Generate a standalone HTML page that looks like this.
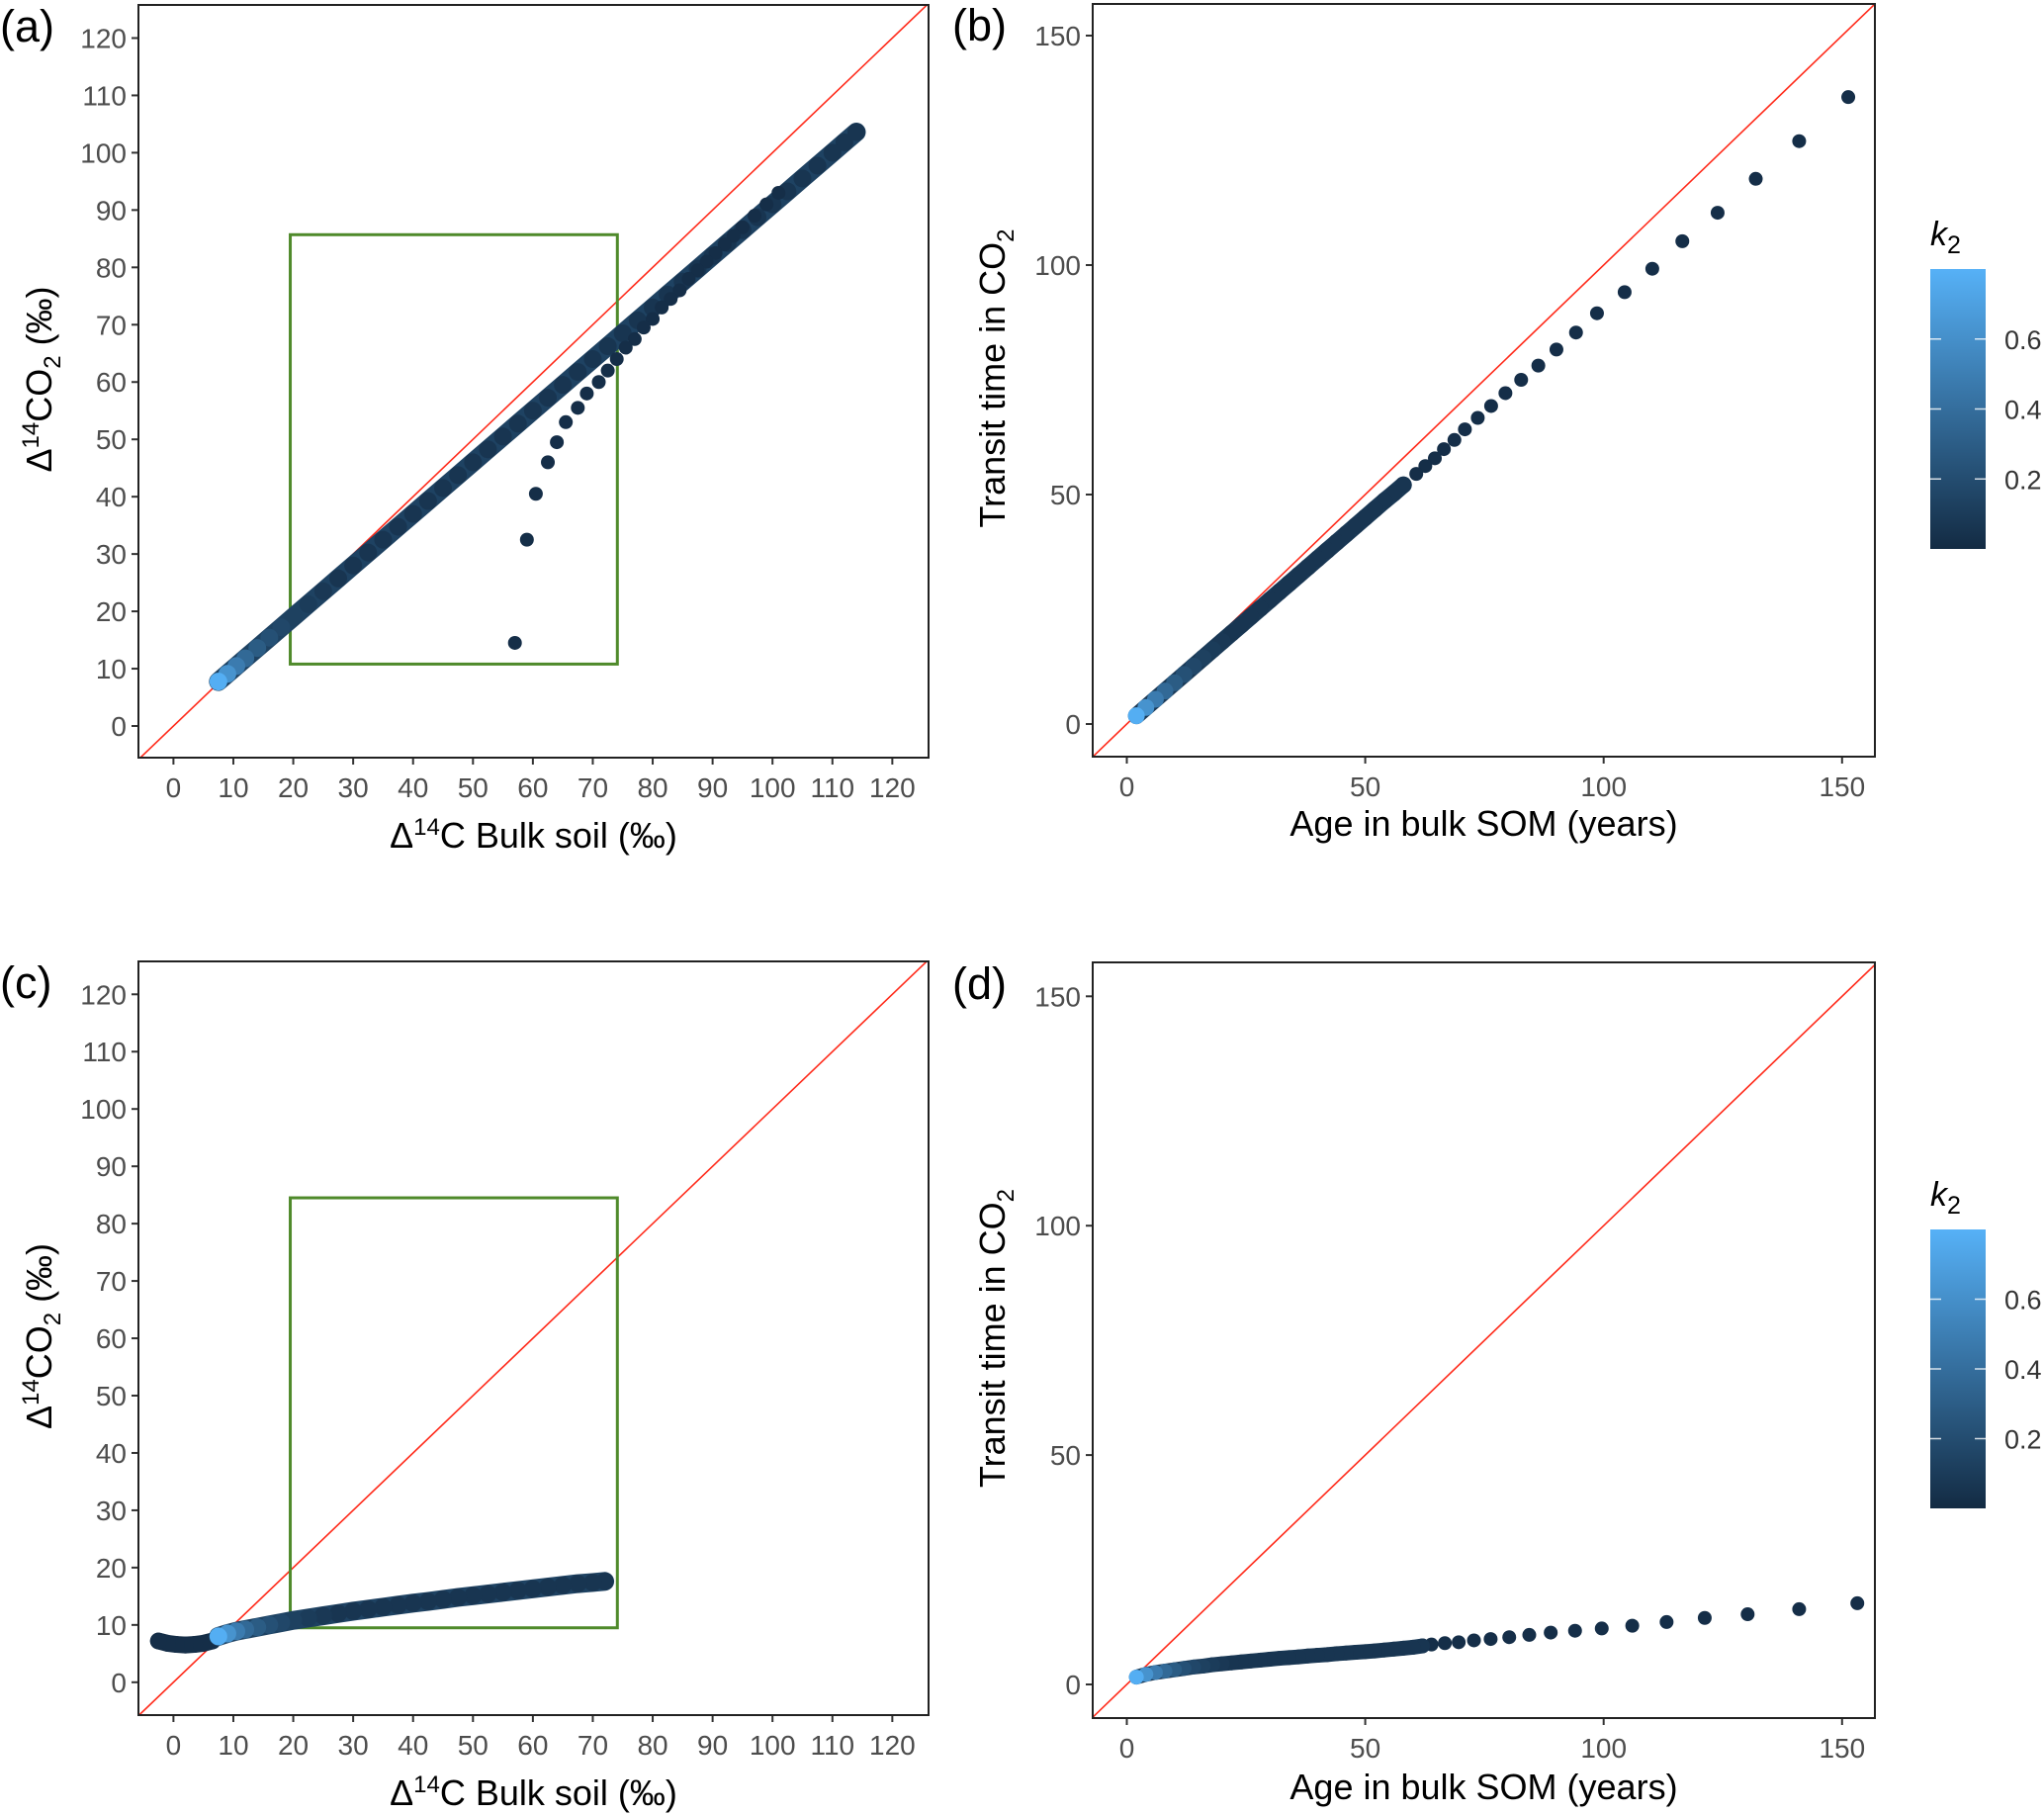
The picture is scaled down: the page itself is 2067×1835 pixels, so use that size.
<!DOCTYPE html>
<html><head><meta charset="utf-8">
<style>
html,body{margin:0;padding:0;background:#fff;}
svg{display:block;font-family:"Liberation Sans",Arial,sans-serif;}
</style></head>
<body>
<svg id="fig" width="2067" height="1835" viewBox="0 0 2067 1835" xmlns="http://www.w3.org/2000/svg">
<defs>
<linearGradient id="cbgrad" x1="0" y1="1" x2="0" y2="0">
<stop offset="0" stop-color="#132B43"/><stop offset="1" stop-color="#56B1F7"/>
</linearGradient>
</defs>
</svg>
<script>
// ---------- data ----------
const aMainX=[7.5,9,10.5,12,14,16,18,20,22.5,25,27.5,30,32.5,35,37.5,40,42.5,45,47.5,50,52.5,55,57.5,60,62.5,65,67.5,70,72.5,75,77.5,80,82.5,85,87.5,90,92.5,95,97.5,100,102.5,105,107.5,110,112,114];
const aMainY=[7.75,9.1,10.45,11.8,13.6,15.4,17.2,19,21.25,23.5,25.75,28,30.25,32.5,34.75,37,39.25,41.5,43.75,46,48.25,50.5,52.75,55,57.25,59.5,61.75,64,66.25,68.5,70.75,73,75.25,77.5,79.75,82,84.25,86.5,88.75,91,93.25,95.5,97.75,100,101.8,103.6];
const aBranchX=[57,59,60.5,62.5,64,65.5,67.5,69,71,72.5,74,75.5,77,78.5,80,81.5,83,84.5,86,87.5,89,90.5,92,93.5,95,97,99,101];
const aBranchY=[14.5,32.5,40.5,46,49.5,53,55.5,58,60,62,64,66,67.5,69.5,71,73,74.5,76,78,79.5,81,82.5,84,85.5,87,89,91,93];
const bMainX=[2,4,6,8,10,12,14,16,18,20,22,24,26,28,30,32,34,36,38,40,42,44,46,48,50,52,54,56,58];
const bMainY=[1.8,3.6,5.4,7.2,9.0,10.8,12.6,14.4,16.2,18.0,19.8,21.6,23.4,25.2,27.0,28.8,30.6,32.4,34.2,36.0,37.8,39.6,41.4,43.2,45.0,46.8,48.6,50.3,52.1];
const bSparseX=[60.7,62.6,64.6,66.5,68.7,70.9,73.6,76.4,79.4,82.7,86.3,90.1,94.2,98.6,104.4,110.2,116.5,123.9,131.9,141,151.3];
const bSparseY=[54.5,56.2,57.9,59.9,61.9,64.2,66.7,69.3,72.1,75,78.1,81.6,85.3,89.5,94.1,99.2,105.2,111.4,118.8,127,136.6];
const cLowX=[-2.5,-1,0.5,2,3.5,5,6.5];
const cLowY=[7.2,6.8,6.6,6.5,6.6,6.8,7.2];
const cMainX=[7.5,9,10.5,12,14,16,18,20,22.5,25,27.5,30,32.5,35,37.5,40,42.5,45,47.5,50,52.5,55,57.5,60,62.5,65,67.5,70,72];
const cMainY=[8,8.5,8.9,9.2,9.6,10,10.4,10.8,11.2,11.6,12,12.4,12.75,13.1,13.45,13.8,14.1,14.45,14.8,15.1,15.4,15.7,16,16.3,16.6,16.9,17.2,17.4,17.6];
const dMainX=[2,4,6,8,10,12,14,16,18,20,22,24,26,28,30,32,34,36,38,40,42,44,46,48,50,52,54,56,58,60,62];
const dMainY=[1.6,2.2,2.6,2.9,3.2,3.5,3.8,4.0,4.3,4.5,4.7,4.9,5.1,5.3,5.5,5.7,5.85,6.0,6.2,6.35,6.5,6.7,6.85,7.0,7.15,7.3,7.5,7.7,7.9,8.1,8.4];
const dSparseX=[63.9,66.7,69.6,72.8,76.3,80.2,84.4,88.9,94,99.6,106,113.2,121.2,130.2,141,153.2];
const dSparseY=[8.7,9.0,9.2,9.6,9.9,10.3,10.8,11.3,11.7,12.2,12.8,13.6,14.5,15.3,16.4,17.7];
const k2Head=[0.78,0.62,0.48,0.37,0.29,0.22,0.17,0.13,0.1,0.08,0.06];
const deltaTicks=[0,10,20,30,40,50,60,70,80,90,100,110,120];
const ageTicks=[0,50,100,150];
const cbTicks=[0.2,0.4,0.6];
const boxA=[19.5,74.1,10.8,85.7];
const boxC=[19.5,74.1,9.5,84.5];

// ---------- drawing ----------
const NS="http://www.w3.org/2000/svg";
const svg=document.getElementById('fig');
function el(tag,attrs,parent){const e=document.createElementNS(NS,tag);for(const k in attrs)e.setAttribute(k,attrs[k]);(parent||svg).appendChild(e);return e;}
function lerp(a,b,t){return Math.round(a+(b-a)*t);}
function k2Color(k){const t=Math.max(0,Math.min(1,k/0.8));return `rgb(${lerp(0x13,0x56,t)},${lerp(0x2B,0xB1,t)},${lerp(0x43,0xF7,t)})`;}

function panel(cfg){
  const g=el('g',{});
  
  
  const X=v=>cfg.x0+cfg.xs*v, Y=v=>cfg.y0-cfg.ys*v;
  const cid='clip-'+cfg.id;
  const cp=el('clipPath',{id:cid},g);
  el('rect',{x:cfg.fx0,y:cfg.fy0,width:cfg.fx1-cfg.fx0,height:cfg.fy1-cfg.fy0},cp);
  cfg.xt.forEach(t=>{
    const tk=el('line',{x1:X(t),x2:X(t),y1:cfg.fy1,y2:cfg.fy1+7,stroke:'#333','stroke-width':2},g);
    
    
    const tl=el('text',{x:X(t),y:cfg.fy1+40,'text-anchor':'middle','font-size':28,fill:'#4d4d4d'},g);
    
    
    tl.textContent=t;
  });
  cfg.yt.forEach(t=>{
    const tk=el('line',{x1:cfg.fx0-7,x2:cfg.fx0,y1:Y(t),y2:Y(t),stroke:'#333','stroke-width':2},g);
    
    
    const tl=el('text',{x:cfg.fx0-12,y:Y(t)+10,'text-anchor':'end','font-size':28,fill:'#4d4d4d'},g);
    
    
    tl.textContent=t;
  });
  const inner=el('g',{'clip-path':`url(#${cid})`},g);
  const ref=el('line',{x1:X(-20),y1:Y(-20),x2:X(300),y2:Y(300),stroke:'#ff2a1a','stroke-width':1.6},inner);
  
  
  if(cfg.box){
    const b=cfg.box;
    const r=el('rect',{x:X(b[0]),y:Y(b[3]),width:X(b[1])-X(b[0]),height:Y(b[2])-Y(b[3]),fill:'none',stroke:'#4f8a2b','stroke-width':3},inner);
    
    
  }
  cfg.series.forEach(s=>{
    if(s.band){
      const pts=s.x.map((v,i)=>X(v)+','+Y(s.y[i])).join(' ');
      const pl=el('polyline',{points:pts,fill:'none',stroke:s.bandColor||'#1d3f5e','stroke-width':s.band,'stroke-linecap':'round','stroke-linejoin':'round'},inner);
      
      
    }
    for(let i=s.x.length-1;i>=0;i--){
      const k=s.light?(i<k2Head.length?k2Head[i]:0.06):0.02;
      const c=el('circle',{cx:X(s.x[i]),cy:Y(s.y[i]),r:s.r,fill:k2Color(k)},inner);
      
      
    }
  });
  const fr=el('rect',{x:cfg.fx0,y:cfg.fy0,width:cfg.fx1-cfg.fx0,height:cfg.fy1-cfg.fy0,fill:'none',stroke:'#222','stroke-width':2},g);
  
  
  const pl=el('text',{x:cfg.plx,y:cfg.fy0+37,'font-size':45,fill:'#000'},g);
  
  
  pl.textContent=cfg.label;
  const xt=el('text',{x:(cfg.fx0+cfg.fx1)/2,y:cfg.fy1+cfg.xtdy,'text-anchor':'middle','font-size':36,fill:'#000'},g);
  
  
  xt.innerHTML=cfg.xtitle;
  const cy=(cfg.fy0+cfg.fy1)/2-2;
  const yt=el('text',{x:0,y:0,'text-anchor':'middle','font-size':36,fill:'#000',transform:`translate(${cfg.ytx},${cy}) rotate(-90)`},g);
  
  
  yt.innerHTML=cfg.ytitle;
}

const deltaX='Δ<tspan dy="-13" font-size="24">14</tspan><tspan dy="13">C Bulk soil (‰)</tspan>';
const deltaY='Δ<tspan dy="-13" font-size="24">14</tspan><tspan dy="13">CO</tspan><tspan dy="9" font-size="24">2</tspan><tspan dy="-9"> (‰)</tspan>';
const ageX='Age in bulk SOM (years)';
const transY='Transit time in CO<tspan dy="9" font-size="24">2</tspan>';

panel({id:'a',name:'panel-a',label:'(a)',plx:0,fx0:140,fx1:939,fy0:5,fy1:766,x0:175.4,xs:6.058,y0:734,ys:5.796,xt:deltaTicks,yt:deltaTicks,box:boxA,xtitle:deltaX,ytitle:deltaY,ytx:52,xtdy:91,
  series:[{x:aMainX,y:aMainY,r:9,light:true,band:19,bandColor:'#1e4262'},{x:aBranchX,y:aBranchY,r:7,light:false}]});
panel({id:'b',name:'panel-b',label:'(b)',plx:963,fx0:1105,fx1:1896,fy0:4,fy1:765,x0:1139.5,xs:4.822,y0:732,ys:4.64,xt:ageTicks,yt:ageTicks,box:null,xtitle:ageX,ytitle:transY,ytx:1016,xtdy:80,
  series:[{x:bSparseX,y:bSparseY,r:7,light:false},{x:bMainX,y:bMainY,r:8.5,light:true,band:17,bandColor:'#1a3956'}]});
panel({id:'c',name:'panel-c',label:'(c)',plx:0,fx0:140,fx1:939,fy0:972,fy1:1734,x0:175.4,xs:6.058,y0:1700.8,ys:5.796,xt:deltaTicks,yt:deltaTicks,box:boxC,xtitle:deltaX,ytitle:deltaY,ytx:52,xtdy:91,
  series:[{x:cLowX,y:cLowY,r:8.5,light:false,band:17,bandColor:'#132B43'},{x:cMainX,y:cMainY,r:9,light:true,band:19,bandColor:'#1e4262'}]});
panel({id:'d',name:'panel-d',label:'(d)',plx:963,fx0:1105,fx1:1896,fy0:973,fy1:1737,x0:1139.5,xs:4.822,y0:1703,ys:4.638,xt:ageTicks,yt:ageTicks,box:null,xtitle:ageX,ytitle:transY,ytx:1016,xtdy:82,
  series:[{x:dSparseX,y:dSparseY,r:7,light:false},{x:dMainX,y:dMainY,r:7.5,light:true,band:15,bandColor:'#1a3956'}]});

function colorbar(top,bottom,name){
  const g=el('g',{});
  
  
  const x0=1952,x1=2008;
  const V=v=>bottom-(bottom-top)*v/0.8;
  const r=el('rect',{x:x0,y:top,width:x1-x0,height:bottom-top,fill:'url(#cbgrad)'},g);
  
  
  cbTicks.forEach(t=>{
    el('line',{x1:x0,x2:x0+11,y1:V(t),y2:V(t),stroke:'#fff','stroke-width':1.5,opacity:0.8},g);
    el('line',{x1:x1-11,x2:x1,y1:V(t),y2:V(t),stroke:'#fff','stroke-width':1.5,opacity:0.8},g);
    const tl=el('text',{x:x1+19,y:V(t)+10,'font-size':27,fill:'#333'},g);
    
    
    tl.textContent=t.toFixed(1);
  });
  const tt=el('text',{x:1952,y:top-24,'font-size':34,fill:'#000'},g);
  
  
  tt.innerHTML='<tspan font-style="italic">k</tspan><tspan dy="8" font-size="25">2</tspan>';
}
colorbar(272,555,'legend-k2-top');
colorbar(1243,1525,'legend-k2-bottom');
</script>
</body></html>
